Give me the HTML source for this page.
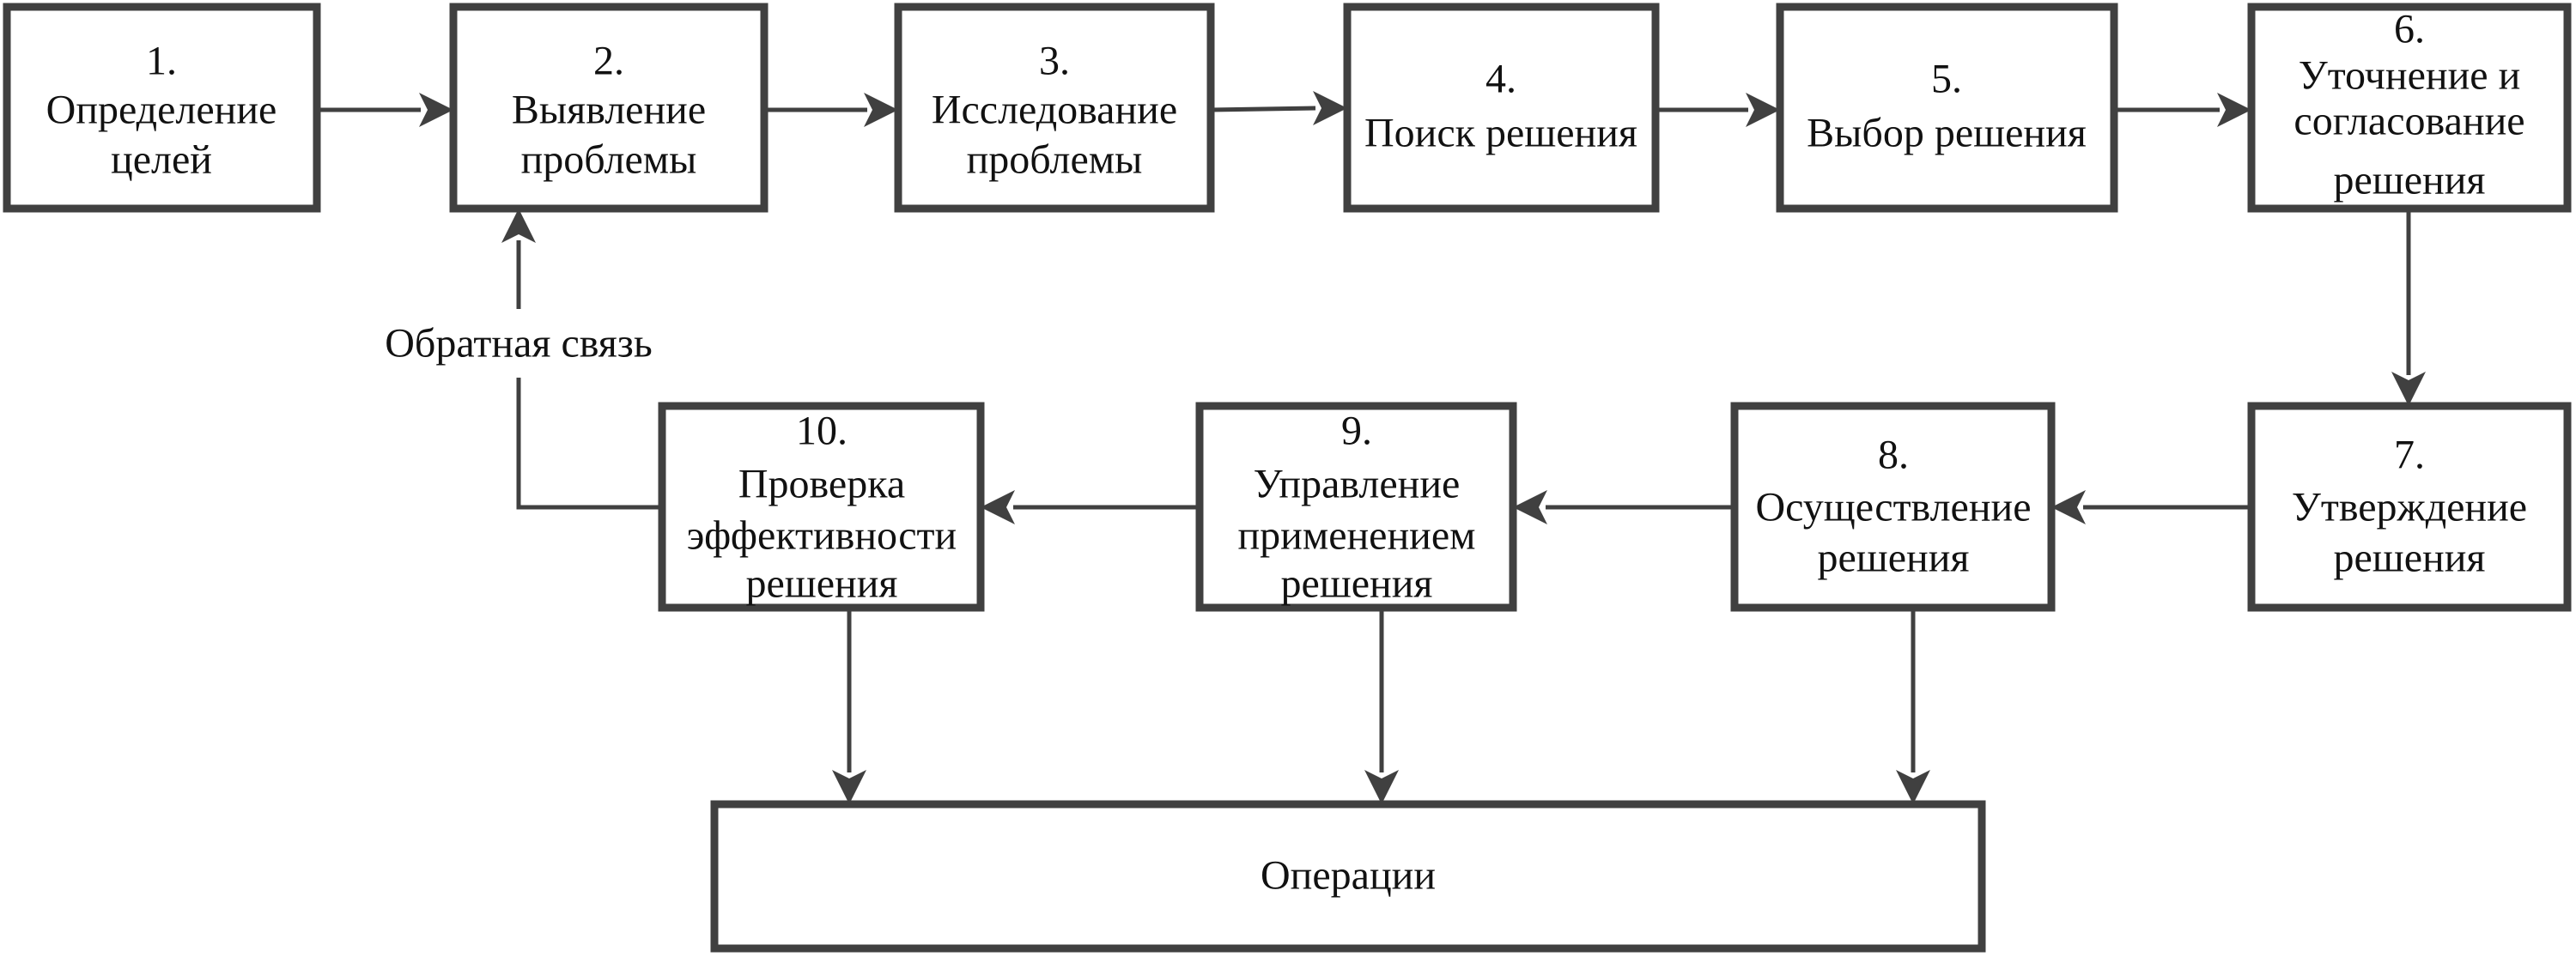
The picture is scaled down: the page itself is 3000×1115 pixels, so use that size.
<!DOCTYPE html>
<html><head><meta charset="utf-8"><style>
html,body{margin:0;padding:0;background:#fff;}
svg{display:block;}
text{font-family:"Liberation Serif",serif;font-size:48px;fill:#111;text-anchor:middle;dominant-baseline:central;}
</style></head><body>
<svg width="3000" height="1115" viewBox="0 0 3000 1115" xmlns="http://www.w3.org/2000/svg">
<defs>
<marker id="a" markerWidth="10" markerHeight="10" refX="9" refY="5" orient="auto" markerUnits="userSpaceOnUse" viewBox="0 0 10 10">
</marker>
</defs>
<g fill="none" stroke="#404040" stroke-width="9">
<rect x="8" y="8" width="361" height="235"/>
<rect x="528" y="8" width="362" height="235"/>
<rect x="1046" y="8" width="364" height="235"/>
<rect x="1569" y="8" width="359" height="235"/>
<rect x="2073" y="8" width="389" height="235"/>
<rect x="2622" y="8" width="368" height="235"/>
<rect x="2622" y="473" width="368" height="235"/>
<rect x="2020" y="473" width="369" height="235"/>
<rect x="1397" y="473" width="365" height="235"/>
<rect x="771" y="473" width="371" height="235"/>
<rect x="832" y="937" width="1476" height="168"/>
</g>
<g stroke="#404040" stroke-width="5" fill="none">
<line x1="369" y1="128" x2="490" y2="128"/>
<line x1="890" y1="128" x2="1010" y2="128"/>
<line x1="1410" y1="128" x2="1532" y2="126"/>
<line x1="1928" y1="128" x2="2036" y2="128"/>
<line x1="2462" y1="128" x2="2585" y2="128"/>
<line x1="2805" y1="243" x2="2805" y2="437"/>
<line x1="2622" y1="591" x2="2426" y2="591"/>
<line x1="2020" y1="591" x2="1800" y2="591"/>
<line x1="1397" y1="591" x2="1180" y2="591"/>
<polyline points="771,591 604,591 604,440"/>
<line x1="604" y1="360" x2="604" y2="280"/>
<line x1="989" y1="708" x2="989" y2="900"/>
<line x1="1609" y1="708" x2="1609" y2="900"/>
<line x1="2228" y1="708" x2="2228" y2="900"/>
</g>
<g fill="#404040">
<polygon points="528,128 488,108 498,128 488,148"/>
<polygon points="1046,128 1006,108 1016,128 1006,148"/>
<polygon points="1569,126 1529,106 1539,126 1529,146"/>
<polygon points="2073,128 2033,108 2043,128 2033,148"/>
<polygon points="2622,128 2582,108 2592,128 2582,148"/>
<polygon points="2805,473 2785,433 2805,443 2825,433"/>
<polygon points="2389,591 2429,571 2419,591 2429,611"/>
<polygon points="1762,591 1802,571 1792,591 1802,611"/>
<polygon points="1142,591 1182,571 1172,591 1182,611"/>
<polygon points="604,243 584,283 604,273 624,283"/>
<polygon points="989,937 969,897 989,907 1009,897"/>
<polygon points="1609,937 1589,897 1609,907 1629,897"/>
<polygon points="2228,937 2208,897 2228,907 2248,897"/>
</g>
<text x="188" y="71">1.</text><text x="188" y="128">Определение</text><text x="188" y="186">целей</text>
<text x="709" y="71">2.</text><text x="709" y="128">Выявление</text><text x="709" y="186">проблемы</text>
<text x="1228" y="71">3.</text><text x="1228" y="128">Исследование</text><text x="1228" y="186">проблемы</text>
<text x="1748" y="92">4.</text><text x="1748" y="155">Поиск решения</text>
<text x="2267" y="92">5.</text><text x="2267" y="155">Выбор решения</text>
<text x="2806" y="34">6.</text><text x="2806" y="88">Уточнение и</text><text x="2806" y="141">согласование</text><text x="2806" y="210">решения</text>
<text x="2806" y="530">7.</text><text x="2806" y="591">Утверждение</text><text x="2806" y="650">решения</text>
<text x="2205" y="530">8.</text><text x="2205" y="591">Осуществление</text><text x="2205" y="650">решения</text>
<text x="1580" y="502">9.</text><text x="1580" y="564">Управление</text><text x="1580" y="624">применением</text><text x="1580" y="680">решения</text>
<text x="957" y="502">10.</text><text x="957" y="564">Проверка</text><text x="957" y="624">эффективности</text><text x="957" y="680">решения</text>
<text x="604" y="400">Обратная связь</text>
<text x="1570" y="1020">Операции</text>
</svg>
</body></html>
